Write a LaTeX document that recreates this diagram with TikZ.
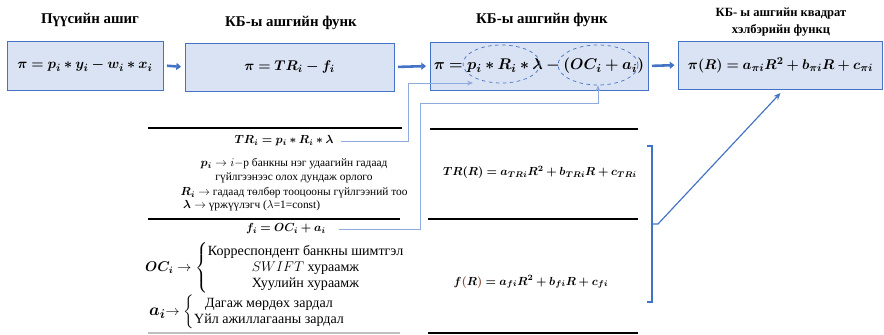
\documentclass[tikz,border=0pt]{standalone}
\usepackage[no-math]{fontspec}
\setmainfont{Liberation Serif}
\usepackage{amsmath,bm,graphicx}
\usetikzlibrary{arrows.meta,shapes.geometric}
\definecolor{boxfill}{HTML}{DAE3F3}
\definecolor{boxline}{HTML}{4472C4}
\definecolor{linkblue}{HTML}{8FAADC}
\definecolor{parbrown}{HTML}{8B4A3C}
\newlength\pu
\setlength\pu{0.03cm}

\begin{document}
\begin{tikzpicture}[
  x=\pu, y=-\pu,
  box/.style={
    rectangle, draw=boxline, fill=boxfill,
    line width=0.8pt, inner sep=0pt,
    font=\fontsize{13}{15}\selectfont
  },
  head/.style={font=\fontsize{12.7}{15}\selectfont\bfseries, align=center},
  flow/.style={line width=2.2pt, draw=boxline, -{Triangle[length=4pt,width=6pt]},
    shorten <=3pt, shorten >=3pt},
  link/.style={draw=linkblue, line width=0.8pt, -{Stealth[length=5pt,width=4pt]}},
  oval/.style={ellipse, draw=boxline, dashed, line width=0.6pt, inner sep=0pt},
  rule/.style={line width=0.9pt},
  expr/.style={font=\fontsize{9.8}{12}\selectfont},
  note/.style={font=\fontsize{9.7}{12.4}\selectfont, align=center},
  list/.style={anchor=west, font=\fontsize{12}{13.6}\selectfont},
]
\useasboundingbox (0,0) rectangle (884,335);

%% Titles
\node[head] (t1) at (90,20) {Пүүсийн ашиг};
\node[head] (t2) at (291,23) {КБ-ы ашгийн функ};
\node[head] (t3) at (542,20) {КБ-ы ашгийн функ};
\node[head, font=\fontsize{10.7}{14}\selectfont\bfseries] (t4) at (781,22)
  {КБ- ы ашгийн квадрат\\хэлбэрийн функц};

%% Boxes
\node[box, minimum width={156*\pu}, minimum height={49*\pu}] (b1) at (85,65.5)
  {$\bm{\pi = p_i \ast y_i - w_i \ast x_i}$};
\node[box, minimum width={209*\pu}, minimum height={48*\pu}] (b2) at (289.5,67)
  {$\bm{\pi = TR_i - f_i}$};
\node[box, minimum width={218*\pu}, minimum height={48*\pu}] (b3) at (539,66)
  {\scalebox{1.1}{$\bm{\pi = p_i \ast R_i \ast \lambda - (OC_i + a_i)}$}};
\node[box, minimum width={204*\pu}, minimum height={48*\pu}] (b4) at (780.5,65)
  {$\bm{\pi(R) = a_{\pi i}R^2 + b_{\pi i}R + c_{\pi i}}$};

%% Marked terms
\node[oval, minimum width={77*\pu}, minimum height={38*\pu}] (e1) at (501.5,64) {};
\node[oval, minimum width={80*\pu}, minimum height={40*\pu}] (e2) at (598,65) {};

%% Flow arrows
\draw[flow] (b1.east) -- (b2.west);
\draw[flow] (b2.east) -- (b3.west);
\draw[flow] (b3.east) -- (b4.west);

%% Rules
\draw[rule] (148,128) -- (402,128);
\draw[rule] (148,219) -- (400,219);
\draw[rule, black!25] (148,333) -- (400,333);
\draw[rule] (430,129) -- (638,129);
\draw[rule] (428,219) -- (638,219);
\draw[rule] (428,333) -- (638,333);

%% Left column
\node[expr] (tr) at (284,141)
  {$\bm{TR_i = p_i \ast R_i \ast \lambda}$};
\node[note] (n1) at (294,178)
  {$\bm{p_i}\rightarrow i-$р банкны нэг удаагийн гадаад\\
   гүйлгээнээс олох дундаж орлого\\
   $\bm{R_i}\rightarrow$ гадаад төлбөр тооцооны гүйлгээний тоо};
\node[note, anchor=west] (n2) at (179,206)
  {$\bm{\lambda}\rightarrow$ үржүүлэгч ($\lambda$=1=const)};
\node[expr, font=\fontsize{10}{12}\selectfont] (fi) at (286,229)
  {$\bm{f_i = OC_i + a_i}$};
\node[list] (oc) at (141,268)
  {$\bm{OC_i}\rightarrow\left\{\begin{tabular}{@{}c@{}}Корреспондент банкны шимтгэл\\
   $SWIFT$ хураамж\\ Хуулийн хураамж\end{tabular}\right.$};
\node[list] (ai) at (145,312)
  {{\fontsize{15}{17}\selectfont$\bm{a_i}$}$\rightarrow\left\{\begin{tabular}{@{}c@{}}Дагаж мөрдөх зардал\\
   Үйл ажиллагааны зардал\end{tabular}\right.$};

%% Right column
\node[expr, font=\fontsize{9.6}{12}\selectfont] (trr) at (540,172)
  {$\bm{TR(R) = a_{TRi}R^2 + b_{TRi}R + c_{TRi}}$};
\node[expr] (fr) at (531,282)
  {$\bm{f\textcolor{parbrown}{(}R\textcolor{parbrown}{)} = a_{fi}R^2 + b_{fi}R + c_{fi}}$};

%% Links
\draw[link] ([xshift=3pt]tr.east) -| (408,83) -- (473,83);
\draw[link] ([xshift=8pt]fi.east) -| (420,103) -| (e2.south);

%% Bracket
\draw[boxline, line width=1pt] (647,146) -- (652,146) -- (652,302) -- (647,302);
\coordinate (br) at (652,224);
\draw[boxline, line width=1pt, -{Stealth[length=6pt,width=5pt]}]
  (br) -- ++(6,0) -- ([yshift=-3pt]b4.south);

\end{tikzpicture}
\end{document}
